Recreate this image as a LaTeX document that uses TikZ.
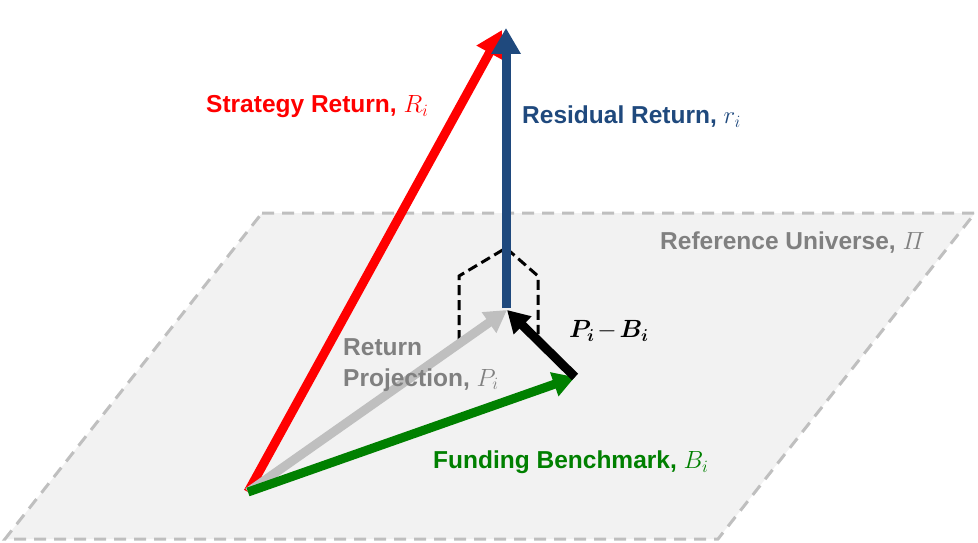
\documentclass[tikz,border=0pt]{standalone}
\usepackage{amsmath}
\usepackage{bm}
\usepackage{fontspec}
\setmainfont{Liberation Sans}
\usetikzlibrary{arrows.meta}
\definecolor{planefill}{HTML}{F2F2F2}
\definecolor{planeedge}{HTML}{BFBFBF}
\definecolor{resblue}{HTML}{1F497D}
\definecolor{fundgreen}{HTML}{008000}
\definecolor{projgray}{HTML}{BFBFBF}
\definecolor{labgray}{HTML}{808080}
\tikzset{
  vec/.style={line width=9pt},
  lab/.style={font=\fontsize{24.5}{29}\selectfont\bfseries, inner sep=0pt, anchor=west},
  bighead/.style={-{Triangle[length=26pt,width=28pt]}},
  smallhead/.style={-{Triangle[length=22pt,width=24pt]}},
}
\begin{document}
\begin{tikzpicture}[x=1pt,y=-1pt]
\useasboundingbox (0,0) rectangle (978,543);
% plane
\coordinate (PL1) at (262,213);
\coordinate (PL2) at (975,213);
\coordinate (PL3) at (718,539);
\coordinate (PL4) at (5,539);
\draw[planeedge, fill=planefill, line width=3pt, dash pattern=on 12pt off 8pt]
  (PL1) -- (PL2) -- (PL3) -- (PL4) -- cycle;
% key points
\coordinate (O) at (248,492);
\coordinate (Rt) at (502,30);
\coordinate (Top) at (506,28);
\coordinate (P) at (507,310);
\coordinate (B) at (575,377);
\coordinate (Pbase) at (506,308);
% dashed guides
\coordinate (D1) at (459,340);
\coordinate (D2) at (459,276);
\coordinate (D3) at (506,248);
\coordinate (D4) at (538,276);
\coordinate (D5) at (538,334);
\draw[black, line width=3pt, dash pattern=on 10pt off 5pt] (D1) -- (D2) -- (D3) -- (D4) -- (D5);
% vectors
\draw[vec, red, bighead] (O) -- (Rt);
\draw[vec, resblue, bighead] (Pbase) -- (Top);
\draw[vec, projgray, smallhead] (O) -- (P);
\draw[vec, fundgreen, smallhead] (O) -- (B);
\draw[vec, black, smallhead] (B) -- (P);
% labels
\node[lab, red] (lR) at (206,107) {Strategy Return, $R_i$};
\node[lab, resblue] (lr) at (522,117) {Residual Return, $r_i$};
\node[lab, labgray] (lU) at (660,243) {Reference Universe, $\varPi$};
\node[lab, black] (lPB) at (569,331) {$\bm{P_i}\mkern-2mu-\mkern-2mu\bm{B_i}$};
\node[lab, labgray, align=left, anchor=north west] (lP) at (343,338) {Return\\[2pt]Projection, $P_i$};
\node[lab, fundgreen] (lB) at (433,462) {Funding Benchmark, $B_i$};
\end{tikzpicture}
\end{document}
